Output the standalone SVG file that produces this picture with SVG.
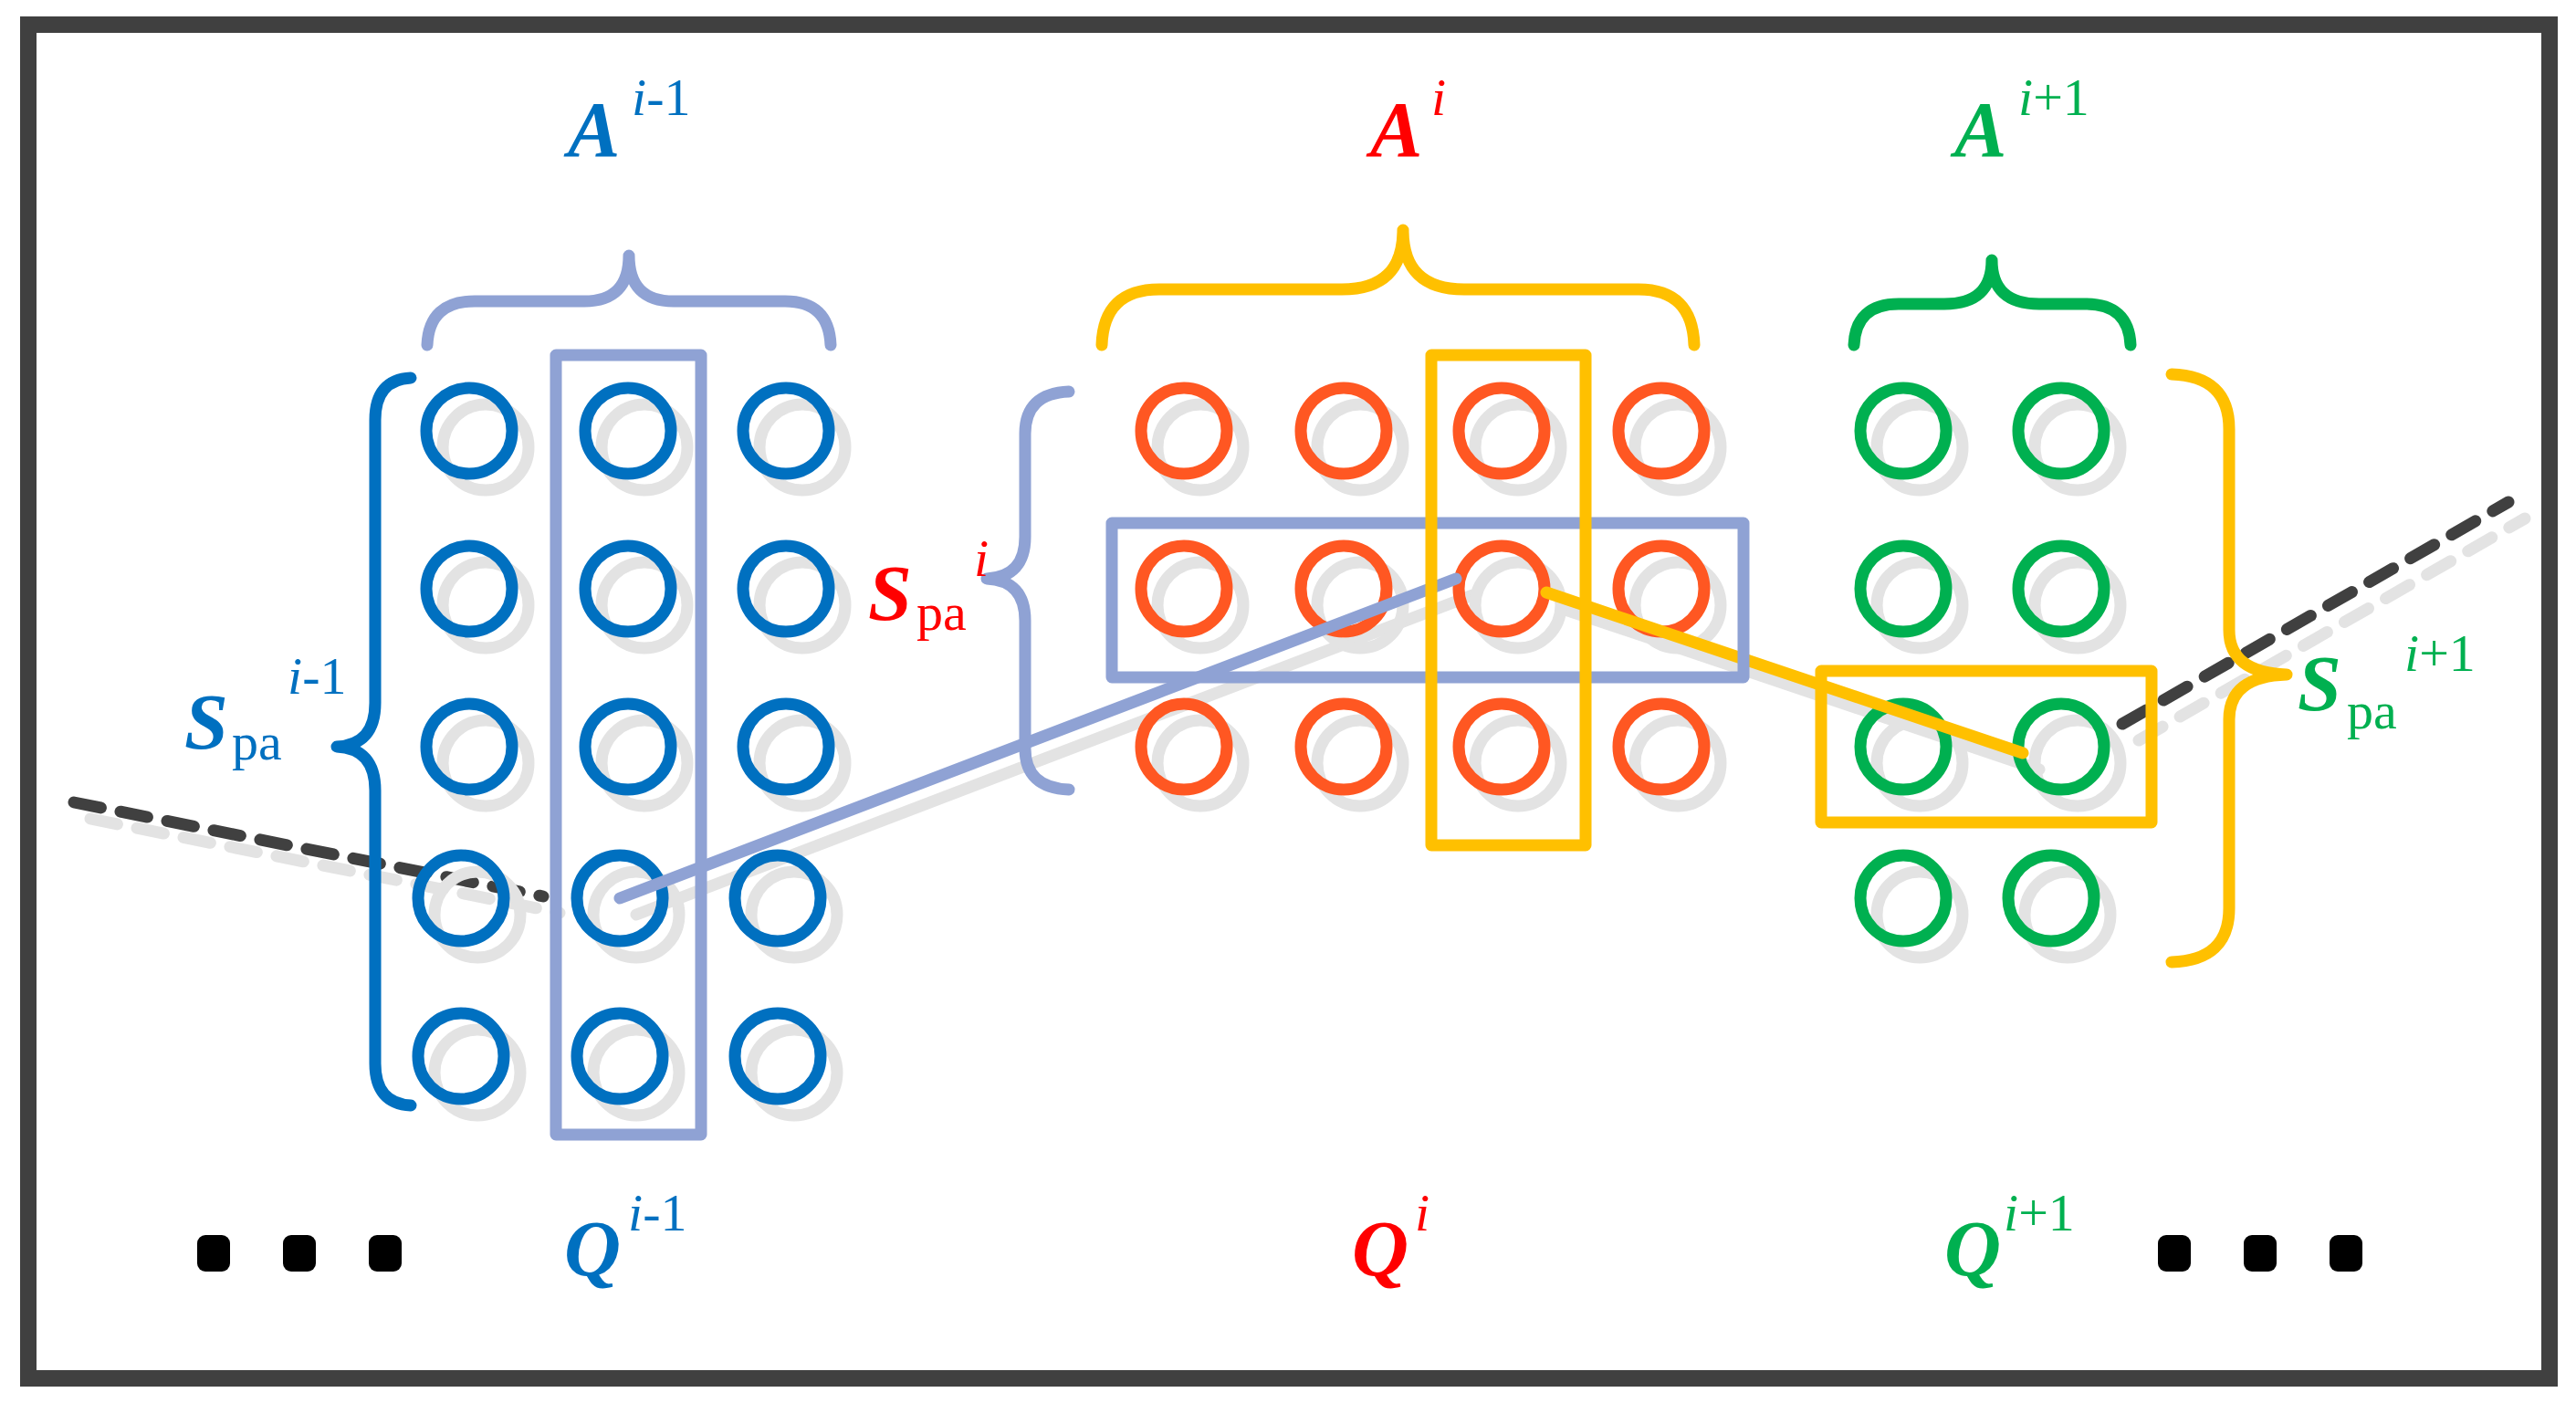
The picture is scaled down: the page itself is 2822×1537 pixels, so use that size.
<svg xmlns="http://www.w3.org/2000/svg" width="2822" height="1537" viewBox="0 0 2822 1537">
<defs>
<style>
.sh{fill:none;stroke:#e3e3e3;stroke-width:13}
.cb{fill:none;stroke:#0070c0;stroke-width:13}
.co{fill:none;stroke:#ff5722;stroke-width:13}
.cg{fill:none;stroke:#00b050;stroke-width:13}
.ln{fill:none;stroke-width:13;stroke-linecap:round;stroke-linejoin:round}
text{font-family:"Liberation Serif","Times New Roman","DejaVu Serif",serif}
.t{font-style:italic;font-weight:bold}
.i{font-style:italic}
.dot{fill:#000}
</style>
</defs>
<rect x="31" y="27" width="2762" height="1483" fill="#fff" stroke="#404040" stroke-width="18"/>
<g id="connectors">
<line x1="697" y1="1002" x2="1613" y2="652" class="ln" stroke="#e3e3e3"/>
<line x1="1712" y1="667" x2="2234" y2="843" class="ln" stroke="#e3e3e3"/>
<line x1="99" y1="897" x2="613" y2="1000" class="ln" stroke="#e3e3e3" stroke-dasharray="30 22"/>
<line x1="2343" y1="811" x2="2766" y2="568" class="ln" stroke="#e3e3e3" stroke-dasharray="30 22"/>
<line x1="81" y1="879" x2="595" y2="982" class="ln" stroke="#404040" stroke-dasharray="30 22"/>
<line x1="2325" y1="793" x2="2748" y2="550" class="ln" stroke="#404040" stroke-dasharray="30 22"/>
</g>
<g id="shadows" class="sh">
<circle cx="532" cy="490" r="47"/><circle cx="706" cy="490" r="47"/><circle cx="879" cy="490" r="47"/>
<circle cx="532" cy="663" r="47"/><circle cx="706" cy="663" r="47"/><circle cx="879" cy="663" r="47"/>
<circle cx="532" cy="836" r="47"/><circle cx="706" cy="836" r="47"/><circle cx="879" cy="836" r="47"/>
<circle cx="523" cy="1002" r="47"/><circle cx="697" cy="1002" r="47"/><circle cx="870" cy="1002" r="47"/>
<circle cx="523" cy="1175" r="47"/><circle cx="697" cy="1175" r="47"/><circle cx="870" cy="1175" r="47"/>
<circle cx="1315" cy="490" r="47"/><circle cx="1490" cy="490" r="47"/><circle cx="1663" cy="490" r="47"/><circle cx="1838" cy="490" r="47"/>
<circle cx="1315" cy="663" r="47"/><circle cx="1490" cy="663" r="47"/><circle cx="1663" cy="663" r="47"/><circle cx="1838" cy="663" r="47"/>
<circle cx="1315" cy="836" r="47"/><circle cx="1490" cy="836" r="47"/><circle cx="1663" cy="836" r="47"/><circle cx="1838" cy="836" r="47"/>
<circle cx="2103" cy="490" r="47"/><circle cx="2276" cy="490" r="47"/>
<circle cx="2103" cy="663" r="47"/><circle cx="2276" cy="663" r="47"/>
<circle cx="2103" cy="836" r="47"/><circle cx="2276" cy="836" r="47"/>
<circle cx="2103" cy="1002" r="47"/><circle cx="2265" cy="1002" r="47"/>
</g>
<g id="nodes-prev" class="cb">
<circle cx="514" cy="472" r="47"/><circle cx="688" cy="472" r="47"/><circle cx="861" cy="472" r="47"/>
<circle cx="514" cy="645" r="47"/><circle cx="688" cy="645" r="47"/><circle cx="861" cy="645" r="47"/>
<circle cx="514" cy="818" r="47"/><circle cx="688" cy="818" r="47"/><circle cx="861" cy="818" r="47"/>
<circle cx="505" cy="984" r="47"/><circle cx="679" cy="984" r="47"/><circle cx="852" cy="984" r="47"/>
<circle cx="505" cy="1157" r="47"/><circle cx="679" cy="1157" r="47"/><circle cx="852" cy="1157" r="47"/>
</g>
<g id="nodes-cur" class="co">
<circle cx="1297" cy="472" r="47"/><circle cx="1472" cy="472" r="47"/><circle cx="1645" cy="472" r="47"/><circle cx="1820" cy="472" r="47"/>
<circle cx="1297" cy="645" r="47"/><circle cx="1472" cy="645" r="47"/><circle cx="1645" cy="645" r="47"/><circle cx="1820" cy="645" r="47"/>
<circle cx="1297" cy="818" r="47"/><circle cx="1472" cy="818" r="47"/><circle cx="1645" cy="818" r="47"/><circle cx="1820" cy="818" r="47"/>
</g>
<g id="nodes-next" class="cg">
<circle cx="2085" cy="472" r="47"/><circle cx="2258" cy="472" r="47"/>
<circle cx="2085" cy="645" r="47"/><circle cx="2258" cy="645" r="47"/>
<circle cx="2085" cy="818" r="47"/><circle cx="2258" cy="818" r="47"/>
<circle cx="2085" cy="984" r="47"/><circle cx="2247" cy="984" r="47"/>
</g>
<g id="links">
<line x1="679" y1="984" x2="1595" y2="634" class="ln" stroke="#8fa2d4"/>
<line x1="1694" y1="649" x2="2216" y2="825" class="ln" stroke="#ffc000"/>
</g>
<g id="boxes" class="ln">
<rect x="609" y="389" width="159" height="854" stroke="#8fa2d4"/>
<rect x="1218" y="573" width="692" height="169" stroke="#8fa2d4"/>
<rect x="1568" y="389" width="169" height="537" stroke="#ffc000"/>
<rect x="1995" y="735" width="362" height="166" stroke="#ffc000"/>
</g>
<g id="braces" class="ln">
<path d="M468 378 Q470 330 520 330 L640 330 Q689 330 689 280 Q689 330 738 330 L860 330 Q908 330 910 378" stroke="#8fa2d4"/>
<path d="M1207 378 Q1209 317 1270 317 L1470 317 Q1537 317 1537 252 Q1537 317 1604 317 L1795 317 Q1854 317 1856 378" stroke="#ffc000"/>
<path d="M2031 378 Q2033 333 2080 333 L2130 333 Q2182 333 2182 285 Q2182 333 2234 333 L2285 333 Q2332 333 2334 378" stroke="#00b050"/>
<path d="M450 414 Q411 416 411 460 L411 770 Q411 816 369 818 Q411 820 411 866 L411 1165 Q411 1209 450 1211" stroke="#0070c0"/>
<path d="M1171 429 Q1123 431 1123 475 L1123 588 Q1123 632 1081 634 Q1123 636 1123 680 L1123 820 Q1123 863 1171 865" stroke="#8fa2d4"/>
<path d="M2379 410 Q2442 412 2442 470 L2442 690 Q2442 737 2505 739 Q2442 741 2442 788 L2442 995 Q2442 1052 2379 1054" stroke="#ffc000"/>
</g>
<g id="labels">
<text class="t" x="622" y="171" font-size="86" fill="#0070c0">A</text><text class="i" x="692" y="126" font-size="58" fill="#0070c0">i<tspan font-style="normal">-1</tspan></text>
<text class="t" x="1501" y="171" font-size="86" fill="#ff0000">A</text><text class="i" x="1568" y="126" font-size="58" fill="#ff0000">i</text>
<text class="t" x="2141" y="171" font-size="86" fill="#00b050">A</text><text class="i" x="2211" y="126" font-size="58" fill="#00b050">i<tspan font-style="normal">+1</tspan></text>
<text class="t" x="618" y="1397" font-size="86" fill="#0070c0">Q</text><text class="i" x="688" y="1348" font-size="58" fill="#0070c0">i<tspan font-style="normal">-1</tspan></text>
<text class="t" x="1481" y="1397" font-size="86" fill="#ff0000">Q</text><text class="i" x="1550" y="1348" font-size="58" fill="#ff0000">i</text>
<text class="t" x="2130" y="1397" font-size="86" fill="#00b050">Q</text><text class="i" x="2195" y="1348" font-size="58" fill="#00b050">i<tspan font-style="normal">+1</tspan></text>
<text class="t" x="202" y="820" font-size="86" fill="#0070c0">S</text><text x="254" y="832" font-size="58" fill="#0070c0">pa</text><text class="i" x="315" y="760" font-size="58" fill="#0070c0">i<tspan font-style="normal">-1</tspan></text>
<text class="t" x="951" y="679" font-size="86" fill="#ff0000">S</text><text x="1004" y="690" font-size="58" fill="#ff0000">pa</text><text class="i" x="1067" y="631" font-size="58" fill="#ff0000">i</text>
<text class="t" x="2517" y="778" font-size="86" fill="#00b050">S</text><text x="2571" y="798" font-size="58" fill="#00b050">pa</text><text class="i" x="2634" y="735" font-size="58" fill="#00b050">i<tspan font-style="normal">+1</tspan></text>
</g>
<g id="ellipses" class="dot">
<rect x="216" y="1353" width="36" height="40" rx="9"/><rect x="310" y="1353" width="36" height="40" rx="9"/><rect x="404" y="1353" width="36" height="40" rx="9"/>
<rect x="2364" y="1353" width="36" height="40" rx="9"/><rect x="2458" y="1353" width="36" height="40" rx="9"/><rect x="2552" y="1353" width="36" height="40" rx="9"/>
</g>
</svg>
